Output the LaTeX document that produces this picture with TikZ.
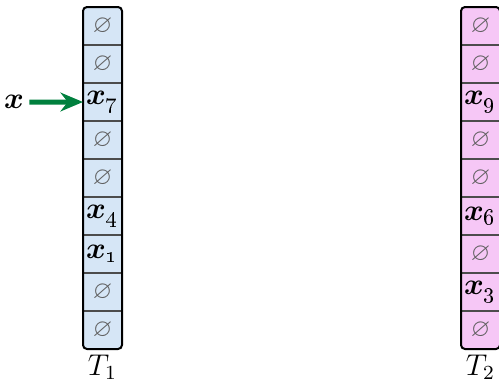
\documentclass[tikz,border=0pt]{standalone}
\usepackage{amsmath}
\usepackage{amssymb}
\usetikzlibrary{arrows.meta}
\usetikzlibrary{positioning}
\definecolor{tblue}{RGB}{214, 230, 246}
\definecolor{tpink}{RGB}{246, 199, 246}
\definecolor{mgreen}{RGB}{0, 128, 62}
\definecolor{egray}{RGB}{95, 95, 95}
\newcommand{\keyx}[1]{$\boldsymbol{x}_{\mbox{\small\oldstylenums{#1}}}$}
\tikzset{cell/.style = {minimum width = 15.6pt, minimum height = 15.2pt, inner sep = 0, outer sep = 0, font = \large}}
\tikzset{free/.style = {cell, text = egray, font = \normalsize}}
\tikzset{sep/.style = {line width = 0.5pt, draw = black!70}}
\tikzset{frame/.style = {line width = 0.8pt, rounded corners = 1.6pt}}
\tikzset{pointer/.style = {line width = 2pt, mgreen, -{Stealth[length = 9pt, width = 7.5pt]}}}

\begin{document}
\begin{tikzpicture}[x = 0.4pt, y = 0.4pt]
    \useasboundingbox (0, 0) rectangle (499, 382);

    % table T1
    \begin{scope}[every node/.append style = {fill = tblue}]
      \node [free] (a1) at (102.5, 356) {$\varnothing$};
      \node [free, below = 0pt of a1] (a2) {$\varnothing$};
      \node [cell, below = 0pt of a2] (a3) {\keyx{7}};
      \node [free, below = 0pt of a3] (a4) {$\varnothing$};
      \node [free, below = 0pt of a4] (a5) {$\varnothing$};
      \node [cell, below = 0pt of a5] (a6) {\keyx{4}};
      \node [cell, below = 0pt of a6] (a7) {\keyx{1}};
      \node [free, below = 0pt of a7] (a8) {$\varnothing$};
      \node [free, below = 0pt of a8] (a9) {$\varnothing$};
    \end{scope}
    \foreach \i in {1,...,8}
      \draw [sep] (a\i.south west) -- (a\i.south east);
    \draw [frame] (a1.north west) rectangle (a9.south east);
    \node [below = 0pt of a9, font = \large, inner sep = 2pt] (t1) {$T_1$};

    % table T2
    \begin{scope}[every node/.append style = {fill = tpink}]
      \node [free] (b1) at (480.5, 356) {$\varnothing$};
      \node [free, below = 0pt of b1] (b2) {$\varnothing$};
      \node [cell, below = 0pt of b2] (b3) {\keyx{9}};
      \node [free, below = 0pt of b3] (b4) {$\varnothing$};
      \node [free, below = 0pt of b4] (b5) {$\varnothing$};
      \node [cell, below = 0pt of b5] (b6) {\keyx{6}};
      \node [free, below = 0pt of b6] (b7) {$\varnothing$};
      \node [cell, below = 0pt of b7] (b8) {\keyx{3}};
      \node [free, below = 0pt of b8] (b9) {$\varnothing$};
    \end{scope}
    \foreach \i in {1,...,8}
      \draw [sep] (b\i.south west) -- (b\i.south east);
    \draw [frame] (b1.north west) rectangle (b9.south east);
    \node [below = 0pt of b9, font = \large, inner sep = 2pt] (t2) {$T_2$};

    % inserted key
    \node [font = \large, inner sep = 2pt] (x) at (14, 280) {$\boldsymbol{x}$};
    \draw [pointer] (x) -- (a3);
  \end{tikzpicture}
\end{document}
